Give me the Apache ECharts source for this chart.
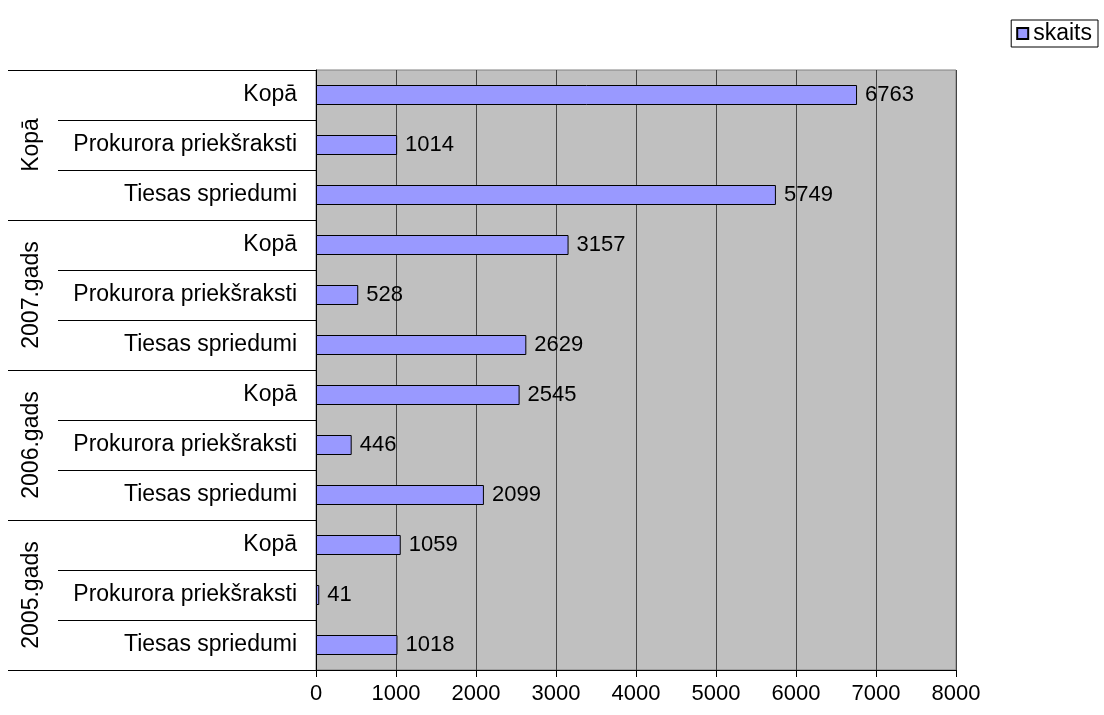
<!DOCTYPE html>
<html>
<head>
<meta charset="utf-8">
<script src="https://cdn.jsdelivr.net/npm/echarts@6/dist/echarts.min.js"></script>
<style>
  html, body { margin: 0; padding: 0; background: #fff; }
  #chart { width: 1104px; height: 715px; }
</style>
</head>
<body>
<div id="chart"></div>
<script>
// categories, bottom to top (ECharts category axis order)
const items = [
  'Tiesas spriedumi', 'Prokurora priekšraksti', 'Kopā',
  'Tiesas spriedumi', 'Prokurora priekšraksti', 'Kopā',
  'Tiesas spriedumi', 'Prokurora priekšraksti', 'Kopā',
  'Tiesas spriedumi', 'Prokurora priekšraksti', 'Kopā'
]
const groups = ['2005.gads', '2006.gads', '2007.gads', 'Kopā']
const skaits = [1018, 41, 1059, 2099, 446, 2545, 2629, 528, 3157, 5749, 1014, 6763]

const font = 'Liberation Sans, Arial, sans-serif'

const chart = echarts.init(document.getElementById('chart'))

const option = {
  animation: false,
  textStyle: { fontFamily: font },
  grid: {
    left: 316,
    right: 148,
    top: 70,
    bottom: 45,
    show: true,
    backgroundColor: '#c0c0c0',
    borderColor: '#808080',
    borderWidth: 1
  },
  legend: {
    right: 6,
    top: 20,
    orient: 'vertical',
    data: ['skaits'],
    icon: 'rect',
    itemWidth: 11,
    itemHeight: 11,
    itemGap: 4,
    padding: [2, 6, 2, 5],
    borderColor: '#000',
    borderWidth: 1,
    textStyle: { fontSize: 23, color: '#000', fontFamily: font }
  },
  xAxis: {
    type: 'value',
    min: 0,
    max: 8000,
    interval: 1000,
    axisLine: { show: true, lineStyle: { color: '#000' } },
    axisTick: { show: true, length: 7, lineStyle: { color: '#000' } },
    axisLabel: { fontSize: 22, color: '#000', margin: 13, formatter: (v) => String(v) },
    splitLine: { show: true, lineStyle: { color: '#444', width: 1 } }
  },
  yAxis: [
    {
      type: 'category',
      data: items,
      axisLine: { show: true, lineStyle: { color: '#000' } },
      axisTick: { show: true, length: 258, alignWithLabel: false, lineStyle: { color: '#000' } },
      axisLabel: { fontSize: 23, color: '#000', margin: 19 }
    },
    {
      type: 'category',
      position: 'left',
      data: groups,
      axisLine: { show: false },
      axisTick: { show: true, length: 308, alignWithLabel: false, lineStyle: { color: '#000' } },
      axisLabel: { fontSize: 23, color: '#000', rotate: 90, margin: 273 }
    }
  ],
  series: [
    {
      name: 'skaits',
      type: 'bar',
      yAxisIndex: 0,
      data: skaits,
      barWidth: 20,
      itemStyle: { color: '#9999ff', borderColor: '#000', borderWidth: 1 },
      label: {
        show: true,
        position: 'right',
        distance: 8,
        fontSize: 22,
        color: '#000',
        fontFamily: font
      }
    }
  ]
}

chart.setOption(option)
</script>
</body>
</html>
